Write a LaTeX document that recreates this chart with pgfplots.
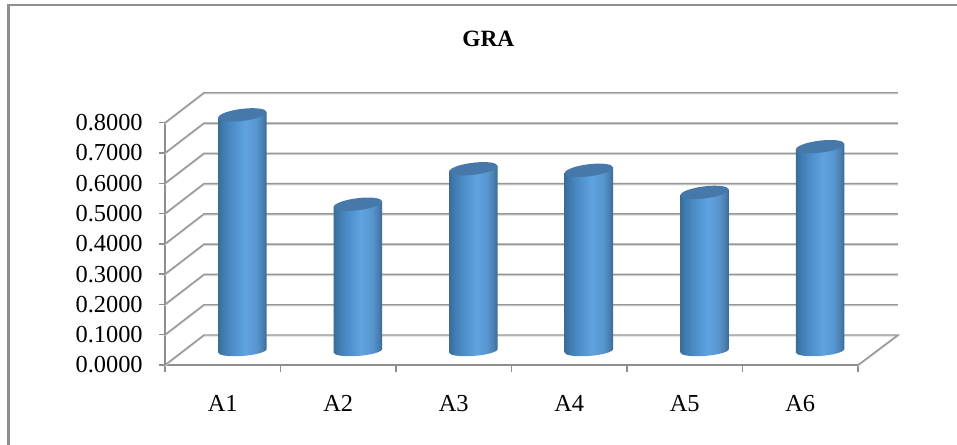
\documentclass[border=0pt]{standalone}
\usepackage{pgfplots}
\usepackage{pgfplotstable}
\usepackage{fontspec}
\pgfplotsset{compat=1.18}
\setmainfont{Liberation Serif}

\definecolor{rulegray}{HTML}{8E8E8E}
\definecolor{gridgray}{HTML}{979797}
\definecolor{gridglow}{HTML}{D8D8D8}
\definecolor{captop}{HTML}{4679A9}
\definecolor{rimL}{HTML}{3A6C9A}
\definecolor{bandA}{HTML}{3F78AC}
\definecolor{bandB}{HTML}{4A8AC5}
\definecolor{bandC}{HTML}{5FA3E0}
\definecolor{bandD}{HTML}{5795CF}
\definecolor{bandE}{HTML}{4A7FB0}
\definecolor{rimR}{HTML}{3A6A94}

% Cylinder side: dark rims, bright band just right of the middle
\pgfdeclarehorizontalshading{cyl}{100bp}{
  color(0bp)=(rimL);
  color(25bp)=(rimL);
  color(29bp)=(bandA);
  color(37.5bp)=(bandB);
  color(53bp)=(bandC);
  color(64.6bp)=(bandD);
  color(71bp)=(bandE);
  color(75bp)=(rimR);
  color(100bp)=(rimR)}

% Tilted end caps of the cylinders
\pgfdeclareplotmark{cylcap}{%
  \pgfpathellipse{\pgfpointorigin}{\pgfqpoint{18.15pt}{2.1pt}}{\pgfqpoint{0pt}{4.55pt}}%
  \pgfsetfillcolor{captop}\pgfusepathqfill}
\pgfdeclareplotmark{cylfoot}{%
  \pgfpathellipse{\pgfpointorigin}{\pgfqpoint{18.15pt}{1.3pt}}{\pgfqpoint{0pt}{3.9pt}}%
  \pgfshadepath{cyl}{0}\pgfusepath{discard}}

% One cylinder side: #1 centre, #2 value; the floor of the box lifts it by 0.047
\newcommand{\cylside}[2]{%
  \addplot[draw=none, shading=cyl, forget plot] table[
    row sep=\\,
    x expr={#1+\thisrow{dx}},
    y expr={\thisrow{f}*#2+0.047+\thisrow{s}}]
    {dx f s\\ -0.2095 0 -0.0057\\ 0.2095 0 0.0057\\ 0.2095 1 0.0092\\ -0.2095 1 -0.0092\\ -0.2095 0 -0.0057\\};}

% Gridlines of the back wall and side wall, and the floor outline
\pgfplotstableread[row sep=\\]{
x y\\
0 0\\ 0.3377 0.099\\ 6.346 0.099\\ 6 0\\ nan nan\\
0 0.1\\ 0.3377 0.199\\ 6.346 0.199\\ nan nan\\
0 0.2\\ 0.3377 0.299\\ 6.346 0.299\\ nan nan\\
0 0.3\\ 0.3377 0.399\\ 6.346 0.399\\ nan nan\\
0 0.4\\ 0.3377 0.499\\ 6.346 0.499\\ nan nan\\
0 0.5\\ 0.3377 0.599\\ 6.346 0.599\\ nan nan\\
0 0.6\\ 0.3377 0.699\\ 6.346 0.699\\ nan nan\\
0 0.7\\ 0.3377 0.799\\ 6.346 0.799\\ nan nan\\
0 0.8\\ 0.3377 0.899\\ 6.346 0.899\\
}\wallgrid

% Cylinder centres and GRA values
\pgfplotstableread[row sep=\\]{
x v\\
0.670 0.779\\
1.670 0.484\\
2.670 0.601\\
3.670 0.596\\
4.672 0.523\\
5.672 0.674\\
}\gra

\begin{document}
\begin{tikzpicture}
\useasboundingbox (0,0) rectangle (717.75pt,333.75pt);
\draw[rulegray, line width=2pt] (6.6pt,0) -- (6.6pt,330pt);
\draw[rulegray, line width=1.5pt] (5.6pt,330pt) -- (717.75pt,330pt);
\begin{axis}[
  at={(123.75pt,60pt)}, anchor=south west,
  scale only axis, width=519.75pt, height=181.7pt,
  xmin=0, xmax=6, ymin=0, ymax=0.8,
  clip=false,
  axis x line*=bottom, axis y line*=left,
  axis line style={-, rulegray, line width=1.1pt},
  tick align=outside,
  ytick={0,0.1,0.2,0.3,0.4,0.5,0.6,0.7,0.8},
  xtick={0.5,1.5,2.5,3.5,4.5,5.5},
  xticklabels={A1,A2,A3,A4,A5,A6},
  minor xtick={0,1,2,3,4,5,6},
  major tick length=4.2pt,
  minor tick length=5pt,
  x tick style={draw=none},
  y tick style={rulegray, line width=1.1pt},
  minor x tick style={draw=rulegray, line width=1.1pt},
  tick label style={font=\fontsize{18.3}{20}\selectfont, text=black},
  yticklabel style={/pgf/number format/.cd, fixed, fixed zerofill, precision=4, assume math mode=true},
  yticklabel shift=9pt,
  xticklabel shift=15pt,
  title={\fontsize{17.5}{20}\selectfont\bfseries GRA},
  title style={at={(0.4665,1.312)}, anchor=center},
  unbounded coords=jump,
]
\addplot[gridglow, line width=1pt, yshift=-0.8pt, forget plot] table[x=x, y=y] {\wallgrid};
\addplot[gridgray, line width=1.1pt, forget plot] table[x=x, y=y] {\wallgrid};

\addplot[only marks, mark=cylfoot, forget plot] table[x=x, y expr=0.047] {\gra};
\cylside{0.670}{0.779}
\cylside{1.670}{0.484}
\cylside{2.670}{0.601}
\cylside{3.670}{0.596}
\cylside{4.672}{0.523}
\cylside{5.672}{0.674}
\addplot[only marks, mark=cylcap, forget plot] table[x=x, y expr=\thisrow{v}+0.047] {\gra};
\end{axis}
\end{tikzpicture}
\end{document}
